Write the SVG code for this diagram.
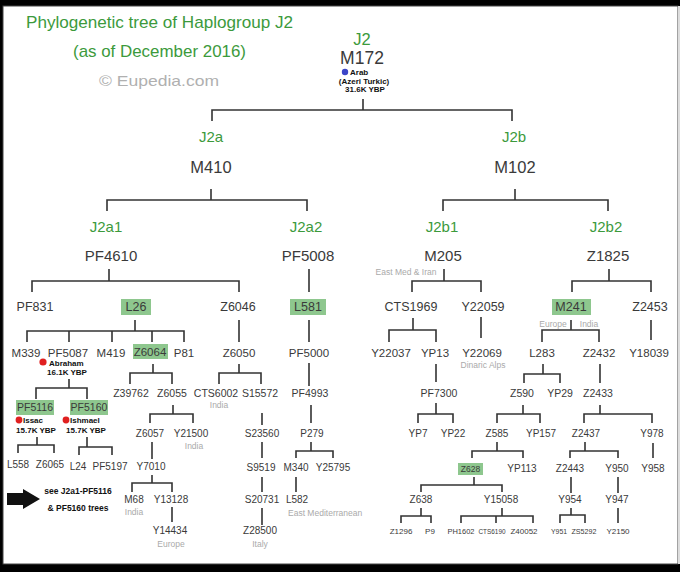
<svg xmlns="http://www.w3.org/2000/svg" width="680" height="572" viewBox="0 0 680 572">
<style>
text{font-family:"Liberation Sans",Arial,sans-serif;fill:#3a3a3a;text-anchor:middle}
.g{fill:#3c9a3c}
.t{fill:#3c9a3c;text-anchor:start}
.s15{font-size:15px}.s16{font-size:16.5px}.s12{font-size:12.5px}.s11{font-size:11.5px}.s10{font-size:10.5px}.s9{font-size:10px}.s8{font-size:8.5px}.s7{font-size:8px}
.ann{font-size:8.5px;font-weight:bold;fill:#111}
.ann2{font-size:8px;font-weight:bold;fill:#111}
.lab{font-size:8.5px;fill:#aaaaaa}
.hl{fill:#8ec78e}
#connectors path{fill:none;stroke:#333;stroke-width:1.6}
</style>
<rect x="0" y="0" width="680" height="572" fill="#000"/>
<rect x="3" y="6" width="675" height="558" fill="#fff" stroke="#444" stroke-width="1"/>
<rect x="678" y="6" width="2" height="558" fill="#ddd"/>

<g id="title">
<text class="t" x="26" y="28" font-size="17" textLength="267" lengthAdjust="spacingAndGlyphs">Phylogenetic tree of Haplogroup J2</text>
<text class="t" x="73" y="57" font-size="17" textLength="173" lengthAdjust="spacingAndGlyphs">(as of December 2016)</text>
<text x="99" y="86" font-size="15" style="fill:#b0b0b0;text-anchor:start" textLength="120" lengthAdjust="spacingAndGlyphs">© Eupedia.com</text>
</g>

<g id="connectors">
<path d="M363,99 V110 M212,121 V110 H512 V121"/>
<path d="M211,189 V200 M107,211 V200 H307 V211"/>
<path d="M515,189 V200 M443,211 V200 H608 V211"/>
<path d="M109,269 V281 M32,292 V281 H239 V292"/>
<path d="M309,269 V292"/>
<path d="M444,269 V281 M412,292 V281 H481 V292"/>
<path d="M609,269 V281 M572,292 V281 H651 V292"/>
<path d="M135,320 V331 M27,342 V331 H184 V342 M69,331 V342 M112,331 V342 M152,331 V342"/>
<path d="M239,320 V342"/>
<path d="M309,320 V342"/>
<path d="M413,318 V330 M389,342 V330 H436 V342"/>
<path d="M481,317 V338"/>
<path d="M571,320 V330 M542,342 V330 H599 V342"/>
<path d="M651,320 V340"/>
<path d="M69,379 V388 M36,399 V388 H87 V399"/>
<path d="M153,364 V373 M130,384 V373 H172 V384"/>
<path d="M239,364 V373 M219,384 V373 H261 V384"/>
<path d="M309,363 V386"/>
<path d="M436,364 V382"/>
<path d="M543,364 V374 M524,383 V374 H560 V383"/>
<path d="M600,364 V383"/>
<path d="M37,437 V445 M18,453 V445 H54 V453"/>
<path d="M87,437 V447 M79,455 V447 H112 V455"/>
<path d="M173,405 V414 M150,423 V414 H193 V423"/>
<path d="M262,413 V425"/>
<path d="M311,405 V423"/>
<path d="M436,403 V414 M418,423 V414 H453 V423"/>
<path d="M523,405 V414 M497,423 V414 H540 V423"/>
<path d="M600,405 V414 M584,423 V414 H652 V423"/>
<path d="M152,442 V459"/>
<path d="M262,442 V458"/>
<path d="M311,442 V451 M296,458 V451 H333 V458"/>
<path d="M497,442 V451 M472,458 V451 H523 V458"/>
<path d="M585,442 V451 M570,458 V451 H618 V458"/>
<path d="M653,443 V458"/>
<path d="M152,475 V483 M132,492 V483 H172 V492"/>
<path d="M262,477 V492"/>
<path d="M296,477 V492"/>
<path d="M474,477 V485 M421,492 V485 H502 V492"/>
<path d="M571,477 V493"/>
<path d="M618,477 V493"/>
<path d="M172,507 V522"/>
<path d="M262,508 V525"/>
<path d="M421,508 V516 M401,523 V516 H431 V523"/>
<path d="M502,508 V516 M461,523 V516 H533 V523 M496,516 V523"/>
<path d="M571,508 V515 M560,523 V515 H585 V523"/>
<path d="M618,508 V523"/>
</g>

<g id="J2">
<text class="g" x="362" y="44.5" font-size="16.5">J2</text>
<text x="362" y="63.5" font-size="17.5">M172</text>
<circle cx="345" cy="72" r="3.2" fill="#3b45c8"/>
<text class="ann2" x="350" y="75" style="text-anchor:start">Arab</text>
<text class="ann2" x="364" y="83.5">(Azeri Turkic)</text>
<text class="ann2" x="365" y="92">31.6K YBP</text>
</g>

<g id="J2a"><text class="g s15" x="211" y="142">J2a</text><text class="s16" x="211" y="173">M410</text></g>
<g id="J2b"><text class="g s15" x="514" y="142">J2b</text><text class="s16" x="515" y="173">M102</text></g>
<g id="J2a1"><text class="g s15" x="106" y="232">J2a1</text><text class="s15" x="111" y="261">PF4610</text></g>
<g id="J2a2"><text class="g s15" x="306" y="232">J2a2</text><text class="s15" x="308" y="261">PF5008</text></g>
<g id="J2b1"><text class="g s15" x="442" y="232">J2b1</text><text class="s15" x="443" y="261">M205</text>
<text class="lab" x="406" y="275">East Med &amp; Iran</text></g>
<g id="J2b2"><text class="g s15" x="606" y="232">J2b2</text><text class="s15" x="608" y="261">Z1825</text></g>

<g id="PF831"><text class="s12" x="35" y="311">PF831</text></g>
<g id="L26"><rect class="hl" x="121" y="299" width="30" height="16"/><text class="s12" x="136" y="311">L26</text></g>
<g id="Z6046"><text class="s12" x="238" y="311">Z6046</text></g>
<g id="L581"><rect class="hl" x="290" y="299" width="36" height="16"/><text class="s12" x="308" y="311">L581</text></g>
<g id="CTS1969"><text class="s12" x="411" y="311">CTS1969</text></g>
<g id="Y22059"><text class="s12" x="483" y="311">Y22059</text></g>
<g id="M241"><rect class="hl" x="552" y="299" width="39" height="16"/><text class="s12" x="571" y="311">M241</text>
<text class="lab" x="553" y="327">Europe</text><text class="lab" x="589" y="327">India</text></g>
<g id="Z2453"><text class="s12" x="650" y="311">Z2453</text></g>

<g id="M339"><text class="s11" x="26" y="357">M339</text></g>
<g id="PF5087"><text class="s11" x="68" y="357">PF5087</text>
<circle cx="43" cy="362" r="3.6" fill="#e02020"/>
<text class="ann2" x="49" y="365.5" style="text-anchor:start">Abraham</text>
<text class="ann2" x="67" y="374.5">16.1K YBP</text></g>
<g id="M419"><text class="s11" x="111" y="357">M419</text></g>
<g id="Z6064"><rect class="hl" x="133" y="344" width="35" height="15"/><text class="s11" x="150" y="356">Z6064</text></g>
<g id="P81"><text class="s11" x="184" y="357">P81</text></g>
<g id="Z6050"><text class="s11" x="239" y="357">Z6050</text></g>
<g id="PF5000"><text class="s11" x="309" y="357">PF5000</text></g>
<g id="Y22037"><text class="s11" x="391" y="357">Y22037</text></g>
<g id="YP13"><text class="s11" x="435" y="357">YP13</text></g>
<g id="Y22069"><text class="s11" x="482" y="357">Y22069</text>
<text class="lab" x="483" y="368">Dinaric Alps</text></g>
<g id="L283"><text class="s11" x="542" y="357">L283</text></g>
<g id="Z2432"><text class="s11" x="599" y="357">Z2432</text></g>
<g id="Y18039"><text class="s11" x="649" y="357">Y18039</text></g>

<g id="Z39762"><text class="s10" x="131" y="397">Z39762</text></g>
<g id="Z6055"><text class="s10" x="172" y="397">Z6055</text></g>
<g id="CTS6002"><text class="s10" x="216" y="397">CTS6002</text><text class="lab" x="219" y="408">India</text></g>
<g id="S15572"><text class="s10" x="260" y="397">S15572</text></g>
<g id="PF4993"><text class="s10" x="310" y="397">PF4993</text></g>
<g id="PF7300"><text class="s10" x="439" y="397">PF7300</text></g>
<g id="Z590"><text class="s10" x="522" y="397">Z590</text></g>
<g id="YP29"><text class="s10" x="560" y="397">YP29</text></g>
<g id="Z2433"><text class="s10" x="598" y="397">Z2433</text></g>

<g id="PF5116"><rect class="hl" x="16" y="400" width="38" height="15"/><text class="s10" x="35" y="411">PF5116</text>
<circle cx="19" cy="420" r="3.4" fill="#e02020"/>
<text class="ann2" x="23" y="423" style="text-anchor:start">Issac</text>
<text class="ann2" x="36" y="432.5">15.7K YBP</text></g>
<g id="PF5160"><rect class="hl" x="70" y="400" width="38" height="15"/><text class="s10" x="89" y="411">PF5160</text>
<circle cx="66" cy="420" r="3.4" fill="#e02020"/>
<text class="ann2" x="70" y="423" style="text-anchor:start">Ishmael</text>
<text class="ann2" x="86" y="432.5">15.7K YBP</text></g>

<g id="Z6057"><text class="s9" x="150" y="437">Z6057</text></g>
<g id="Y21500"><text class="s9" x="191" y="437">Y21500</text><text class="lab" x="194" y="449">India</text></g>
<g id="S23560"><text class="s9" x="262" y="437">S23560</text></g>
<g id="P279"><text class="s9" x="312" y="437">P279</text></g>
<g id="YP7"><text class="s9" x="418" y="437">YP7</text></g>
<g id="YP22"><text class="s9" x="453" y="437">YP22</text></g>
<g id="Z585"><text class="s9" x="497" y="437">Z585</text></g>
<g id="YP157"><text class="s9" x="541" y="437">YP157</text></g>
<g id="Z2437"><text class="s9" x="586" y="437">Z2437</text></g>
<g id="Y978"><text class="s9" x="652" y="437">Y978</text></g>

<g id="L558"><text class="s9" x="18" y="468">L558</text></g>
<g id="Z6065"><text class="s9" x="50" y="468">Z6065</text></g>
<g id="L24"><text class="s9" x="78" y="470">L24</text></g>
<g id="PF5197"><text class="s9" x="110" y="470">PF5197</text></g>
<g id="Y7010"><text class="s9" x="151" y="470">Y7010</text></g>
<g id="S9519"><text class="s9" x="261" y="471">S9519</text></g>
<g id="M340"><text class="s9" x="296" y="471">M340</text></g>
<g id="Y25795"><text class="s9" x="333" y="471">Y25795</text></g>
<g id="Z628"><rect class="hl" x="458" y="463" width="25" height="12"/><text class="s8" x="470.5" y="472">Z628</text></g>
<g id="YP113"><text class="s9" x="522" y="472">YP113</text></g>
<g id="Z2443"><text class="s9" x="570" y="472">Z2443</text></g>
<g id="Y950"><text class="s9" x="617" y="472">Y950</text></g>
<g id="Y958"><text class="s9" x="653" y="472">Y958</text></g>

<g id="M68"><text class="s9" x="134" y="503">M68</text><text class="lab" x="134" y="515">India</text></g>
<g id="Y13128"><text class="s9" x="171" y="503">Y13128</text></g>
<g id="S20731"><text class="s9" x="262" y="503">S20731</text></g>
<g id="L582"><text class="s9" x="297" y="503">L582</text>
<text class="lab" x="288" y="516" style="text-anchor:start">East Mediterranean</text></g>
<g id="Z638"><text class="s9" x="421" y="503">Z638</text></g>
<g id="Y15058"><text class="s9" x="501" y="503">Y15058</text></g>
<g id="Y954"><text class="s9" x="570" y="503">Y954</text></g>
<g id="Y947"><text class="s9" x="617" y="503">Y947</text></g>

<g id="Y14434"><text class="s9" x="170" y="534">Y14434</text><text class="lab" x="171" y="547">Europe</text></g>
<g id="Z28500"><text class="s9" x="260" y="534">Z28500</text><text class="lab" x="260" y="547">Italy</text></g>
<g id="Z1296"><text class="s7" x="401" y="534">Z1296</text></g>
<g id="P9"><text class="s7" x="430" y="534">P9</text></g>
<g id="PH1602"><text class="s7" x="461" y="534" textLength="27" lengthAdjust="spacingAndGlyphs">PH1602</text></g>
<g id="CTS6190"><text class="s7" x="492" y="534" textLength="27" lengthAdjust="spacingAndGlyphs">CTS6190</text></g>
<g id="Z40052"><text class="s7" x="524" y="534" textLength="27" lengthAdjust="spacingAndGlyphs">Z40052</text></g>
<g id="Y951"><text class="s7" x="559" y="534" textLength="16" lengthAdjust="spacingAndGlyphs">Y951</text></g>
<g id="ZS5292"><text class="s7" x="584" y="534" textLength="25" lengthAdjust="spacingAndGlyphs">ZS5292</text></g>
<g id="Y2150"><text class="s7" x="618" y="534">Y2150</text></g>

<g id="note">
<polygon points="7,493 23,493 23,489 40,499 23,509 23,505 7,505" fill="#111"/>
<text class="ann" x="78" y="494">see J2a1-PF5116</text>
<text class="ann" x="78" y="511">&amp; PF5160  trees</text>
</g>
</svg>
